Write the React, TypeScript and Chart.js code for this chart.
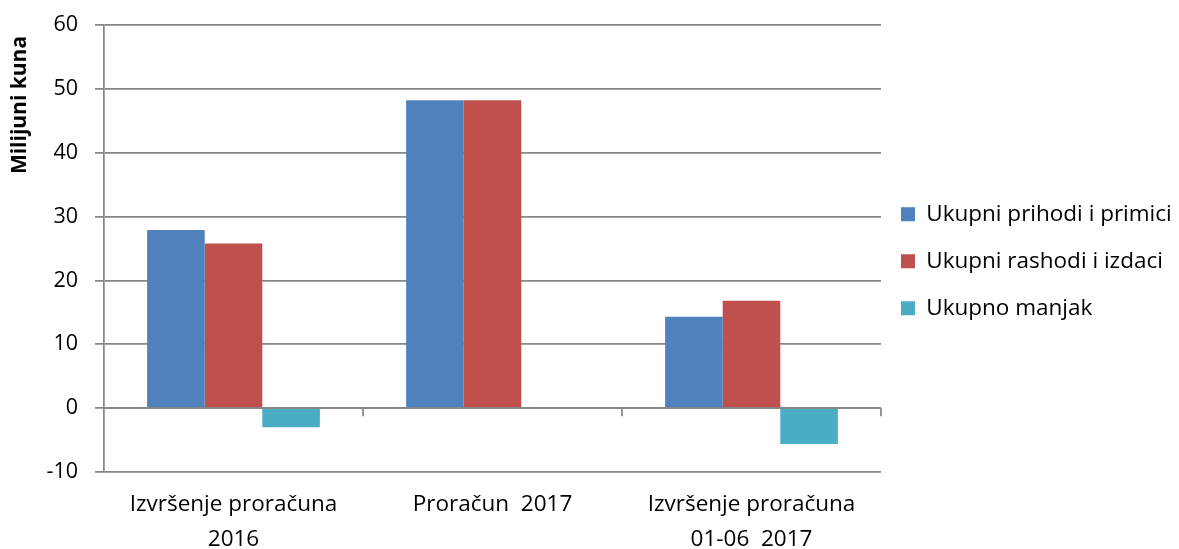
import { useEffect, useRef } from 'react';
import { Chart, registerables } from 'chart.js';

Chart.register(...registerables);

const categories: string[][] = [
  ['Izvršenje proračuna', '2016'],
  ['Proračun  2017'],
  ['Izvršenje proračuna', '01-06  2017'],
];
const seriesNames = ['Ukupni prihodi i primici', 'Ukupni rashodi i izdaci', 'Ukupno manjak'];
const prihodi = [27.9, 48.2, 14.3];
const rashodi = [25.8, 48.2, 16.8];
const manjak = [-3.0, 0, -5.6];
const yMin = -10;
const yMax = 60;
const yStep = 10;
const yTitle = 'Milijuni kuna  ';
const colors = ['#4F81BD', '#C0504D', '#4BACC6'];
const gridColor = '#878787';
const FONT = '"Open Sans"';
const FS = 21.5;
const FS_LEGEND = 22.5;
const FS_X = 22.5;

const zeroAxisPlugin = {
  id: 'zeroAxis',
  afterDatasetsDraw(chart: any) {
    const xs = chart.scales.x;
    const ys = chart.scales.y;
    const area = chart.chartArea;
    const y0 = ys.getPixelForValue(0);
    const ctx = chart.ctx;
    ctx.save();
    ctx.strokeStyle = gridColor;
    ctx.lineWidth = 1.75;
    ctx.beginPath();
    ctx.moveTo(area.left, y0);
    ctx.lineTo(area.right, y0);
    const n = categories.length;
    for (let i = 1; i <= n; i++) {
      const px = i < n ? (xs.getPixelForValue(i - 1) + xs.getPixelForValue(i)) / 2 : area.right;
      ctx.moveTo(px, y0);
      ctx.lineTo(px, y0 + 8);
    }
    ctx.stroke();
    ctx.restore();
  },
};

export default function App() {
  const ref = useRef<HTMLCanvasElement | null>(null);
  useEffect(() => {
    if (!ref.current) return;
    Chart.defaults.font.family = FONT;
    const seriesValues = [prihodi, rashodi, manjak];
    const chart = new Chart(ref.current, {
      type: 'bar',
      data: {
        labels: categories,
        datasets: seriesNames.map((name, i) => ({
          label: name,
          data: seriesValues[i],
          backgroundColor: colors[i],
          borderWidth: 0,
          barPercentage: 1,
          categoryPercentage: 0.667,
        })),
      },
      options: {
        animation: false,
        responsive: true,
        maintainAspectRatio: false,
        layout: { padding: { top: 25, left: 0, right: 0, bottom: 0 } },
        plugins: {
          tooltip: { enabled: false },
          legend: {
            position: 'right',
            align: 'center',
            fullSize: false,
            maxWidth: 298,
            title: { display: true, text: '', font: { size: 10, lineHeight: 1 }, padding: { top: 10, bottom: 10 } },
            labels: {
              boxWidth: 14,
              boxHeight: 14,
              padding: 20,
              color: '#000',
              font: { size: FS_LEGEND, lineHeight: 27 / FS_LEGEND, family: FONT },
              generateLabels: (c: any) =>
                Chart.defaults.plugins.legend.labels.generateLabels(c).map((l: any) => ({ ...l, text: [l.text] })),
            },
          },
        },
        scales: {
          x: {
            offset: true,
            grid: { display: false, drawTicks: false },
            border: { display: false },
            ticks: {
              color: '#000',
              font: { size: FS_X, lineHeight: 35 / FS_X, family: FONT },
              padding: 15,
              maxRotation: 0,
              autoSkip: false,
            },
            afterFit: (s: any) => {
              s.height = 77;
            },
          },
          y: {
            min: yMin,
            max: yMax,
            grid: { color: gridColor, lineWidth: 1.75, tickLength: 9, drawTicks: true },
            border: { display: true, color: gridColor, width: 1.75 },
            ticks: {
              stepSize: yStep,
              color: '#000',
              padding: 17,
              font: { size: FS, lineHeight: 0.7, family: FONT },
            },
            title: {
              display: true,
              text: yTitle,
              align: 'end',
              color: '#000',
              font: { size: 21, weight: 'bold', family: FONT },
              padding: { top: 7, bottom: 0 },
            },
            afterFit: (s: any) => {
              s.width = 104;
            },
          },
        },
      },
      plugins: [zeroAxisPlugin],
    } as any);
    return () => chart.destroy();
  }, []);
  return (
    <div style={{ position: 'absolute', left: 0, top: 0, width: 1179, height: 549, background: '#fff' }}>
      <canvas ref={ref} />
    </div>
  );
}
